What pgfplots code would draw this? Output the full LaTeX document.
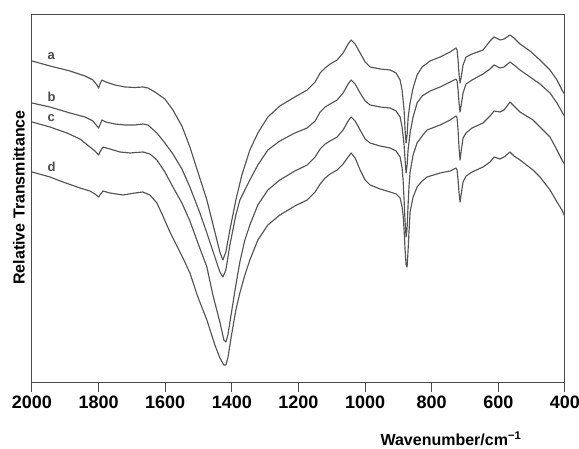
\documentclass[border=0pt]{standalone}
\usepackage{fontspec}
\setmainfont{Liberation Sans}
\usepackage{pgfplots}
\pgfplotsset{compat=1.18}
\definecolor{ink}{HTML}{4A4A4A}
\definecolor{lineink}{HTML}{555555}
\begin{document}
\begin{tikzpicture}
\useasboundingbox (-32pt,-66pt) rectangle (547pt,383pt);
\begin{axis}[
  at={(0,0)}, anchor=south west,
  scale only axis, width=533pt, height=368pt,
  x dir=reverse, xmin=400, xmax=2000, ymin=0, ymax=368,
  xtick={400,600,...,2000}, ytick=\empty,
  tick align=outside, xtick pos=left,
  major tick length=9pt,
  axis line style={ink, line width=1pt},
  every tick/.style={ink, line width=1pt},
  ticklabel style={font=\fontsize{18}{20}\selectfont\bfseries},
  /pgf/number format/assume math mode=true,
  /pgf/number format/1000 sep={},
  xlabel={Wavenumber/cm\textsuperscript{−1}},
  ylabel={Relative Transmittance},
  every axis x label/.style={at={(axis description cs:0.786,-0.171)}, anchor=base, font=\fontsize{16}{18}\selectfont\bfseries},
  every axis y label/.style={at={(axis description cs:-0.0244,0.504)}, rotate=90, anchor=center, font=\fontsize{16}{18}\selectfont\bfseries},
]
% curve a
\addplot[lineink, line width=1.15pt, line join=round] coordinates {
(2000,322)(1946,317)(1886,312)(1841,307)(1817,303)(1805,298)(1800,295)(1796,299)(1790,303)(1778,301)(1751,298)(1721,296)(1691,295.5)(1667,296)(1652,295)(1631,291)(1601,284)(1577,273)(1550,257)(1526,236)(1502,211)(1475,183)(1451,151)(1436,131)(1427,123)(1418,131)(1406,153)(1388,183)(1370,208)(1346,233)(1322,250)(1292,266)(1256,277)(1211,286)(1174,293)(1150,301)(1135,310)(1120,315)(1105,319)(1084,323)(1066,330)(1051,339)(1042,343)(1030,339)(1015,330)(1000,321)(985,316)(955,314)(925,313)(907,310)(895,303)(889,293)(883,273)(880,253)(877,240)(874,248)(871,265)(865,280)(856,295)(844,308)(829,316)(805,322)(775,326)(745,331)(727,335)(724,333)(721,323)(718,308)(715,300)(712,305)(706,318)(697,326)(679,329)(646,333)(625,342)(613,346)(595,343)(583,344)(565,348)(553,345)(535,339)(505,332)(475,323)(445,313)(424,303)(409,293)(400,288)
};
% curve b
\addplot[lineink, line width=1.15pt, line join=round] coordinates {
(2000,280)(1946,276)(1886,270)(1841,266)(1817,262)(1805,257)(1800,255)(1796,258)(1790,263)(1778,261)(1751,259)(1721,258)(1691,258)(1667,259)(1652,258)(1625,250)(1601,240)(1577,229)(1550,214)(1526,196)(1496,170)(1475,150)(1451,126)(1436,111)(1427,106)(1418,113)(1406,138)(1388,168)(1376,183)(1346,203)(1322,218)(1292,233)(1256,242)(1211,250)(1174,255)(1150,262)(1135,271)(1120,276)(1105,279)(1084,283)(1066,290)(1051,299)(1042,303)(1030,299)(1015,290)(1000,282)(985,278)(955,276)(925,275)(907,272)(895,266)(889,256)(883,238)(880,223)(877,210)(874,218)(871,233)(865,250)(856,266)(844,280)(829,287)(805,292)(775,296)(745,301)(727,304)(724,302)(721,293)(718,280)(715,271)(712,277)(706,290)(697,299)(679,303)(646,309)(625,314)(613,318)(595,315)(583,316)(565,321)(553,318)(535,313)(505,306)(475,299)(445,290)(424,280)(409,271)(400,266)
};
% curve c
\addplot[lineink, line width=1.15pt, line join=round] coordinates {
(2000,261)(1946,256)(1895,250)(1856,244)(1826,236)(1811,232)(1800,228)(1796,231)(1787,236)(1766,234)(1736,231)(1706,230)(1667,231)(1646,229)(1625,223)(1601,211)(1577,196)(1550,180)(1526,162)(1502,140)(1475,116)(1457,88)(1436,61)(1424,43)(1418,41)(1412,48)(1400,73)(1388,98)(1376,121)(1361,143)(1346,158)(1322,178)(1292,193)(1256,203)(1211,212)(1174,218)(1150,226)(1135,234)(1120,239)(1105,242)(1084,246)(1066,253)(1051,262)(1042,266)(1030,262)(1015,253)(1000,244)(985,240)(955,237)(925,235)(907,232)(895,226)(889,215)(886,203)(883,183)(880,161)(877,146)(874,155)(871,178)(868,198)(865,211)(856,228)(844,240)(829,247)(814,253)(775,258)(745,263)(727,267)(724,265)(721,253)(718,235)(715,223)(712,231)(706,245)(697,250)(679,255)(646,260)(625,267)(613,272)(595,271)(583,273)(565,281)(553,277)(535,271)(496,263)(475,256)(445,246)(424,233)(409,223)(400,218)
};
% curve d
\addplot[lineink, line width=1.15pt, line join=round] coordinates {
(2000,211)(1946,206)(1907,201)(1856,195)(1826,192)(1811,189)(1800,186)(1796,188)(1787,192)(1766,190)(1727,188)(1691,190)(1667,191)(1646,188)(1625,180)(1607,167)(1586,151)(1565,137)(1544,123)(1526,110)(1502,86)(1475,63)(1451,38)(1436,25)(1424,18)(1418,18)(1412,25)(1400,50)(1388,73)(1376,90)(1361,108)(1346,123)(1322,143)(1292,158)(1256,168)(1211,177)(1174,183)(1150,191)(1135,199)(1120,205)(1105,209)(1084,213)(1066,219)(1051,226)(1042,230)(1030,225)(1015,213)(1000,203)(985,198)(955,194)(925,191)(907,189)(895,185)(889,176)(886,168)(883,153)(880,133)(877,118)(874,116)(871,133)(868,153)(865,171)(856,186)(844,196)(829,202)(814,206)(775,210)(745,212)(727,215)(724,213)(721,203)(718,190)(715,181)(712,188)(706,201)(697,207)(679,211)(646,216)(625,221)(613,226)(595,224)(583,226)(565,231)(553,227)(535,223)(496,213)(475,206)(445,193)(424,181)(409,173)(400,166)
};
\node[anchor=base west, font=\fontsize{13}{15}\selectfont\bfseries, ink] at (axis cs:1964,323) {a};
\node[anchor=base west, font=\fontsize{13}{15}\selectfont\bfseries, ink] at (axis cs:1964,281) {b};
\node[anchor=base west, font=\fontsize{13}{15}\selectfont\bfseries, ink] at (axis cs:1964,261) {c};
\node[anchor=base west, font=\fontsize{13}{15}\selectfont\bfseries, ink] at (axis cs:1964,211) {d};
\end{axis}
\end{tikzpicture}
\end{document}
